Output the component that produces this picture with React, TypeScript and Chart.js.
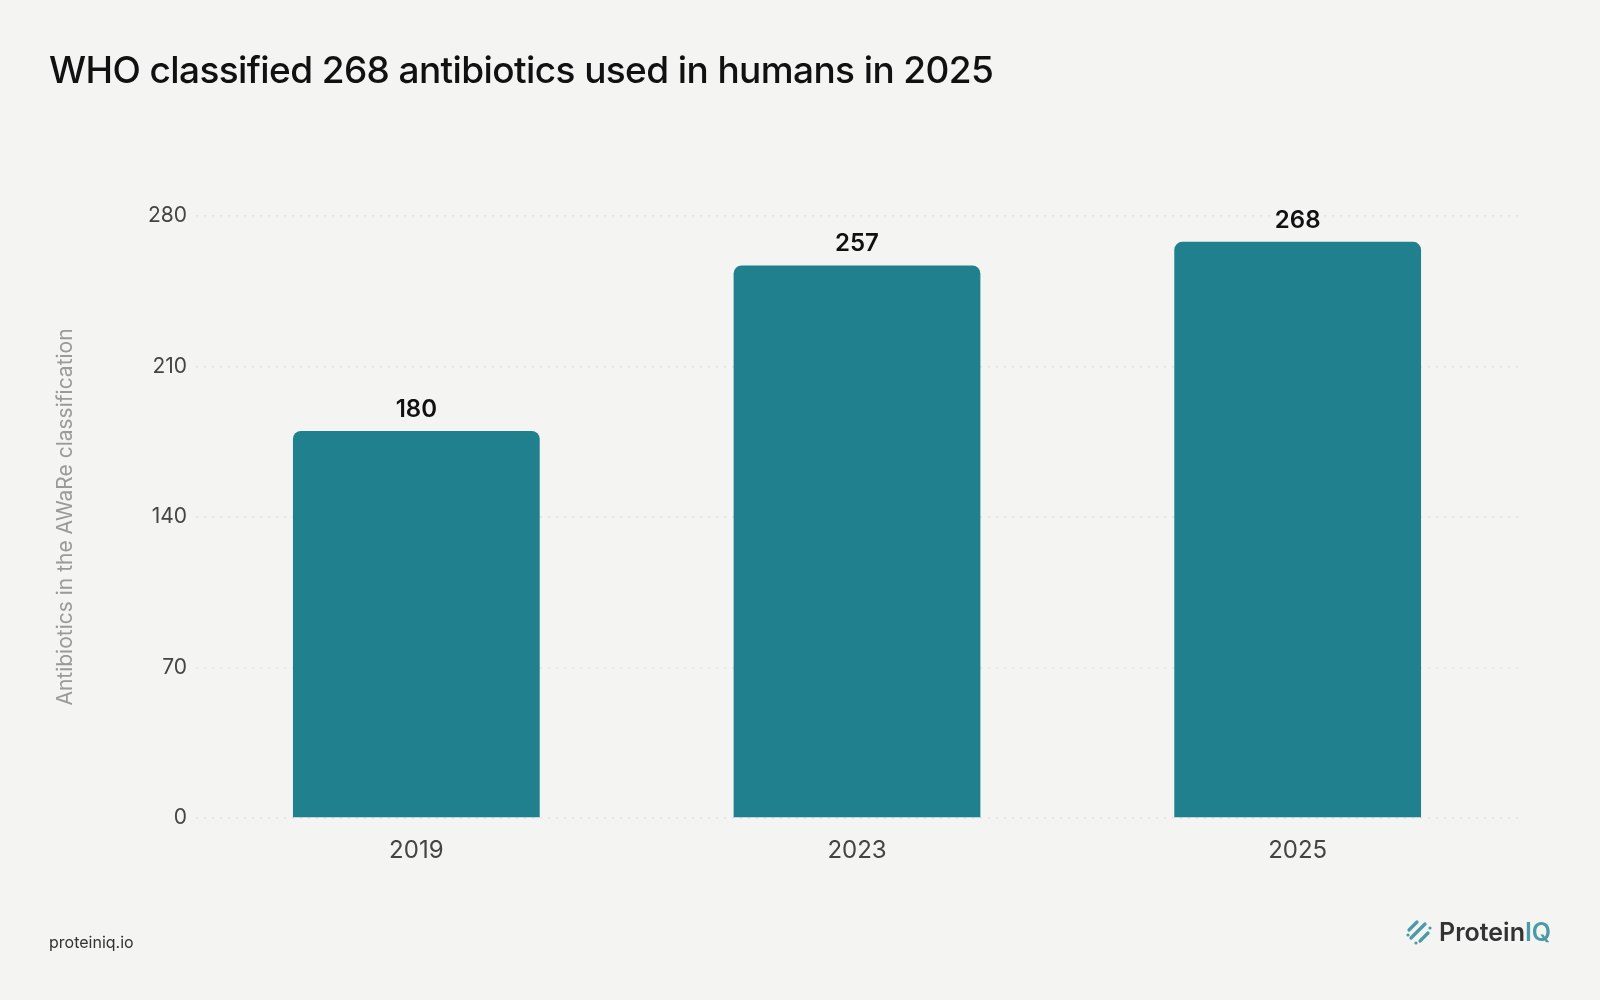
import React, { useEffect, useRef } from 'react'
import { Chart, registerables } from 'chart.js'

Chart.register(...registerables)

const YEARS = ['2019', '2023', '2025']
const ANTIBIOTICS = [180, 257, 268]
const Y_TICKS = [0, 70, 140, 210, 280]

const BG = '#f4f4f2'
const TEAL = '#21808d'
const FONT = 'Inter, "Liberation Sans", sans-serif'

// draws the value above every bar
const valueLabels = {
  id: 'valueLabels',
  afterDatasetsDraw(chart: Chart) {
    const { ctx } = chart
    const meta = chart.getDatasetMeta(0)
    ctx.save()
    ctx.font = `600 24px ${FONT}`
    ctx.fillStyle = '#111111'
    ctx.textAlign = 'center'
    ctx.textBaseline = 'alphabetic'
    meta.data.forEach((bar: any, i: number) => {
      ctx.fillText(String(chart.data.datasets[0].data[i]), bar.x, bar.y - 14)
    })
    ctx.restore()
  },
}

const LogoMark: React.FC = () => (
  <svg width="28" height="28" viewBox="0 0 28 28">
    <g stroke="#4a9aa8" strokeWidth="3.2" strokeLinecap="round" fill="#4a9aa8">
      <line x1="4" y1="12" x2="12" y2="4" />
      <line x1="6" y1="20" x2="20" y2="6" />
      <line x1="15" y1="23" x2="23" y2="15" />
      <circle cx="3" cy="17" r="1.6" stroke="none" />
      <circle cx="11" cy="25" r="1.6" stroke="none" />
      <circle cx="25" cy="10" r="1.6" stroke="none" />
    </g>
  </svg>
)

const App: React.FC = () => {
  const canvasRef = useRef<HTMLCanvasElement>(null)

  useEffect(() => {
    const canvas = canvasRef.current
    if (!canvas) return

    const chart = new Chart(canvas, {
      type: 'bar',
      data: {
        labels: YEARS,
        datasets: [
          {
            label: 'Antibiotics',
            data: ANTIBIOTICS,
            backgroundColor: TEAL,
            borderRadius: { topLeft: 8, topRight: 8, bottomLeft: 0, bottomRight: 0 },
            borderSkipped: false,
            categoryPercentage: 1,
            barPercentage: 0.56,
          },
        ],
      },
      options: {
        animation: false,
        responsive: false,
        layout: { padding: { top: 216, right: 82, bottom: 102, left: 49 } },
        plugins: {
          legend: { display: false },
          tooltip: { enabled: false },
        },
        scales: {
          x: {
            grid: { display: false, drawTicks: false },
            border: { display: false },
            ticks: {
              color: '#444444',
              padding: 18,
              font: { family: FONT, size: 24 },
            },
            afterFit: (scale: any) => {
              scale.height = 80
            },
          },
          y: {
            min: 0,
            max: 280,
            afterBuildTicks: (scale: any) => {
              scale.ticks = Y_TICKS.map((v) => ({ value: v }))
            },
            grid: {
              color: '#e2e2e0',
              lineWidth: 1.5,
              drawTicks: false,
            },
            border: { display: false, dash: [2, 6] },
            ticks: {
              color: '#444444',
              padding: 9,
              font: { family: FONT, size: 21 },
            },
            title: {
              display: true,
              text: 'Antibiotics in the AWaRe classification',
              color: '#9a9a9a',
              font: { family: FONT, size: 21 },
            },
            afterFit: (scale: any) => {
              scale.width = 147
            },
          },
        },
      },
      plugins: [valueLabels],
    })

    return () => {
      chart.destroy()
    }
  }, [])

  return (
    <div
      style={{
        position: 'fixed',
        left: 0,
        top: 0,
        width: 1600,
        height: 1000,
        background: BG,
        fontFamily: FONT,
        overflow: 'hidden',
      }}
    >
      <canvas
        ref={canvasRef}
        width={1600}
        height={1000}
        style={{ position: 'absolute', left: 0, top: 0, width: 1600, height: 1000 }}
      />
      <div
        style={{
          position: 'absolute',
          left: 49,
          top: 47,
          fontSize: 37,
          fontWeight: 500,
          color: '#111111',
          letterSpacing: -0.6,
          whiteSpace: 'nowrap',
        }}
      >
        WHO classified 268 antibiotics used in humans in 2025
      </div>
      <div
        style={{
          position: 'absolute',
          left: 49,
          top: 932,
          fontSize: 16,
          color: '#333333',
        }}
      >
        proteiniq.io
      </div>
      <div
        style={{
          position: 'absolute',
          left: 1405,
          top: 917,
          display: 'flex',
          alignItems: 'center',
          gap: 6,
          fontSize: 25,
          fontWeight: 600,
          color: '#333333',
        }}
      >
        <LogoMark />
        <span>
          Protein<span style={{ color: '#4a9aa8' }}>IQ</span>
        </span>
      </div>
    </div>
  )
}

export default App
